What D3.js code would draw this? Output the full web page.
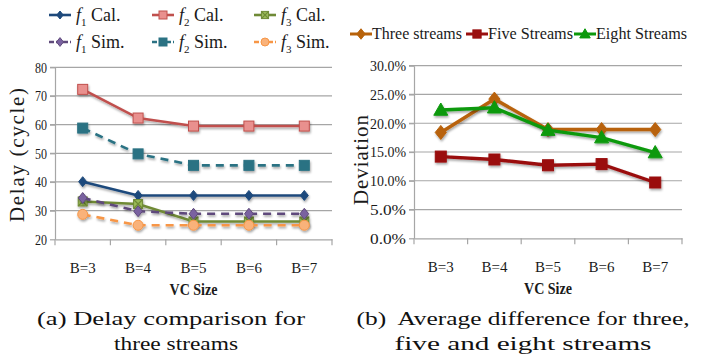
<!DOCTYPE html>
<html lang="en">
<meta charset="UTF-8">
<script src="https://d3js.org/d3.v7.min.js"></script>
<head>
  <style>
    body { margin:0; background:#fff; }
    svg text { font-family: "Liberation Serif", "Times New Roman", Times, serif; fill:#1a1a1a; }
    .grid line { stroke:#a6a6a6; stroke-width:1.2; }
    .axis path, .axis line { stroke:#a6a6a6; stroke-width:1.2; }
    svg text.cap { font-size:19px; fill:#111; }
  </style>
</head>
<body>
<div id="chart"></div>
<script>
  const width = 714, height = 358;
  const serif = "'Liberation Serif', 'Times New Roman', Times, serif";

  // data
  const categories = ["B=3", "B=4", "B=5", "B=6", "B=7"];
  const delayTicks = [20, 30, 40, 50, 60, 70, 80];
  const f1Cal = [40.1, 35.3, 35.3, 35.3, 35.3];
  const f2Cal = [72.3, 62.3, 59.5, 59.5, 59.5];
  const f3Cal = [33.2, 32.3, 26.2, 26.2, 26.2];
  const f1Sim = [34.4, 29.8, 28.9, 28.9, 28.9];
  const f2Sim = [58.8, 49.8, 45.8, 45.8, 45.8];
  const f3Sim = [28.7, 24.9, 24.9, 24.9, 24.9];

  const devTicks = [0, 0.05, 0.10, 0.15, 0.20, 0.25, 0.30];
  const threeStreams = [0.184, 0.242, 0.189, 0.189, 0.189];
  const fiveStreams = [0.142, 0.137, 0.127, 0.129, 0.097];
  const eightStreams = [0.223, 0.227, 0.188, 0.175, 0.149];

  const svg = d3.select("#chart").append("svg")
      .attr("width", width).attr("height", height)
      .attr("font-family", serif);

  const defs = svg.append("defs");
  defs.append("filter").attr("id", "shadow")
      .attr("x", "-20%").attr("y", "-20%").attr("width", "140%").attr("height", "160%")
    .append("feDropShadow")
      .attr("dx", 0.8).attr("dy", 1.8).attr("stdDeviation", 1.1)
      .attr("flood-color", "#000").attr("flood-opacity", 0.35);

  // marker drawing helper
  function marker(g, shape, x, y, s) {
    if (shape.type == "diamond") {
      g.append("path")
        .attr("d", `M${x},${y - s}L${x + s * 0.8},${y}L${x},${y + s}L${x - s * 0.8},${y}Z`)
        .attr("fill", shape.fill).attr("stroke", shape.stroke).attr("stroke-width", 1);
    } else if (shape.type == "square") {
      g.append("rect").attr("x", x - s).attr("y", y - s)
        .attr("width", 2 * s).attr("height", 2 * s)
        .attr("fill", shape.fill).attr("stroke", shape.stroke).attr("stroke-width", 1);
    } else if (shape.type == "xsquare") {
      g.append("rect").attr("x", x - s).attr("y", y - s)
        .attr("width", 2 * s).attr("height", 2 * s)
        .attr("fill", shape.fill).attr("stroke", shape.stroke).attr("stroke-width", 1);
      g.append("path")
        .attr("d", `M${x - s},${y - s}L${x + s},${y + s}M${x + s},${y - s}L${x - s},${y + s}`)
        .attr("stroke", shape.stroke).attr("stroke-width", 1.2);
    } else if (shape.type == "circle") {
      g.append("circle").attr("cx", x).attr("cy", y).attr("r", s)
        .attr("fill", shape.fill).attr("stroke", shape.stroke).attr("stroke-width", 1);
    } else if (shape.type == "triangle") {
      g.append("path")
        .attr("d", `M${x},${y - s}L${x + s},${y + s * 0.75}L${x - s},${y + s * 0.75}Z`)
        .attr("fill", shape.fill).attr("stroke", shape.stroke).attr("stroke-width", 1);
    }
  }

  function drawPanel(opt) {
    const x = d3.scaleBand().domain(categories).range([opt.left, opt.right]);
    const y = d3.scaleLinear().domain(opt.domain).range([opt.bottom, opt.top]);
    const g = svg.append("g");

    // grid
    g.append("g").attr("class", "grid")
      .selectAll("line").data(opt.ticks.slice(1)).join("line")
      .attr("x1", opt.left - 5).attr("x2", opt.right)
      .attr("y1", d => y(d)).attr("y2", d => y(d));

    // y axis
    g.append("g").attr("class", "axis")
      .attr("transform", `translate(${opt.left},0)`)
      .call(d3.axisLeft(y).tickValues(opt.ticks).tickSize(5).tickSizeOuter(0).tickFormat(opt.fmt))
      .call(a => a.selectAll("text").attr("x", -8)
        .style("font-family", serif).style("font-size", "15px").style("fill", "#1a1a1a")
        .attr("textLength", opt.tlen).attr("lengthAdjust", "spacingAndGlyphs"));

    // x axis, ticks on category boundaries
    const xa = g.append("g").attr("class", "axis")
      .attr("transform", `translate(0,${opt.bottom})`)
      .call(d3.axisBottom(x).tickSize(0).tickSizeOuter(0));
    xa.selectAll("text").attr("dy", "0").attr("y", 34)
      .style("font-family", serif).style("font-size", "15px").style("fill", "#1a1a1a");
    xa.selectAll(".bnd").data(d3.range(categories.length + 1)).join("line")
      .attr("x1", i => opt.left + i * x.step()).attr("x2", i => opt.left + i * x.step())
      .attr("y1", 0).attr("y2", 6);

    g.append("text").attr("x", (opt.left + opt.right) / 2).attr("y", opt.bottom + 56)
      .attr("text-anchor", "middle").style("font-size", "16px").style("font-weight", "bold")
      .attr("textLength", 48).attr("lengthAdjust", "spacingAndGlyphs")
      .text("VC Size");

    g.append("text")
      .attr("transform", `translate(${opt.ytx},${opt.yty}) rotate(-90)`)
      .attr("text-anchor", "middle").style("font-size", "21px")
      .attr("textLength", opt.ylen).attr("lengthAdjust", "spacing")
      .text(opt.ylabel);

    const cx = d => x(d) + x.bandwidth() / 2;
    opt.series.forEach(s => {
      const sg = g.append("g").attr("filter", "url(#shadow)");
      const line = d3.line().x((d, i) => cx(categories[i])).y(d => y(d));
      sg.append("path").attr("d", line(s.values))
        .attr("fill", "none").attr("stroke", s.color).attr("stroke-width", opt.lw)
        .attr("stroke-dasharray", s.dash ? "8,6" : null);
      s.values.forEach((v, i) => marker(sg, s.shape, cx(categories[i]), y(v), s.size));
    });
  }

  const leftSeries = [
    {name: "Cal.", sub: "1", values: f1Cal, color: "#1f4a7c", shape: {type: "diamond", fill: "#1f4a7c", stroke: "#1f4a7c"}, size: 5},
    {name: "Cal.", sub: "2", values: f2Cal, color: "#c0504d", shape: {type: "square", fill: "#e9908e", stroke: "#c0504d"}, size: 5},
    {name: "Cal.", sub: "3", values: f3Cal, color: "#6f8a36", shape: {type: "xsquare", fill: "#9bbb59", stroke: "#6f8a36"}, size: 4.5},
    {name: "Sim.", sub: "1", values: f1Sim, color: "#5f4a7b", dash: true, shape: {type: "diamond", fill: "#7a62a0", stroke: "#5f4a7b"}, size: 5.5},
    {name: "Sim.", sub: "2", values: f2Sim, color: "#2b7283", dash: true, shape: {type: "square", fill: "#2b7283", stroke: "#2b7283"}, size: 5},
    {name: "Sim.", sub: "3", values: f3Sim, color: "#f79646", dash: true, shape: {type: "circle", fill: "#f9b27a", stroke: "#f79646"}, size: 5}
  ];

  drawPanel({left: 55, right: 332, top: 67.3, bottom: 239.3, domain: [20, 80],
    ticks: delayTicks, fmt: d3.format("d"), tlen: 12, ytx: 24, yty: 155, ylen: 134,
    ylabel: "Delay (cycle)", lw: 2.6, series: leftSeries});

  const rightSeries = [
    {name: "Three streams", values: threeStreams, color: "#b8620a", shape: {type: "diamond", fill: "#b8620a", stroke: "#b8620a"}, size: 7},
    {name: "Five Streams", values: fiveStreams, color: "#9a0f0f", shape: {type: "square", fill: "#9a0f0f", stroke: "#9a0f0f"}, size: 5.5},
    {name: "Eight Streams", values: eightStreams, color: "#0b990b", shape: {type: "triangle", fill: "#0b990b", stroke: "#0b990b"}, size: 7}
  ];

  drawPanel({left: 414, right: 682, top: 65.7, bottom: 238.3, domain: [0, 0.30],
    ticks: devTicks, fmt: d3.format(".1%"), tlen: 36, ytx: 368, yty: 160, ylen: 90,
    ylabel: "Deviation", lw: 3.4, series: rightSeries});

  // legend (a)
  const legA = svg.append("g");
  const legPos = [[49, 15], [152, 15], [254, 15], [49, 42], [152, 42], [254, 42]];
  leftSeries.forEach((s, i) => {
    const [lx, ly] = legPos[i];
    const lg = legA.append("g");
    lg.append("line").attr("x1", lx).attr("x2", lx + 22).attr("y1", ly).attr("y2", ly)
      .attr("stroke", s.color).attr("stroke-width", 2.6)
      .attr("stroke-dasharray", s.dash ? "5,2" : null);
    marker(lg, s.shape, lx + 11, ly, s.size * 0.8);
    const t = lg.append("text").attr("x", lx + 27).attr("y", ly + 6).style("font-size", "18px");
    t.append("tspan").style("font-style", "italic").text("f");
    t.append("tspan").attr("dy", 5).style("font-size", "11px").text(s.sub);
    t.append("tspan").attr("dy", -5).text(" " + s.name);
  });

  // legend (b)
  const legB = svg.append("g");
  const legBx = [350, 466, 574];
  const legBlen = [90, 85, 91];
  rightSeries.forEach((s, i) => {
    const lx = legBx[i], ly = 34;
    legB.append("line").attr("x1", lx).attr("x2", lx + 22).attr("y1", ly).attr("y2", ly)
      .attr("stroke", s.color).attr("stroke-width", 3);
    marker(legB, s.shape, lx + 11, ly, s.size * 0.75);
    legB.append("text").attr("x", lx + 22).attr("y", ly + 5).style("font-size", "17px")
      .attr("textLength", legBlen[i]).attr("lengthAdjust", "spacingAndGlyphs")
      .text(s.name);
  });

  // captions
  const caps = [
    {x: 171, y: 325, t: "(a) Delay comparison for", len: 268},
    {x: 176, y: 350, t: "three streams", len: 124},
    {x: 523, y: 325, t: "(b)  Average difference for three,", len: 333},
    {x: 523, y: 350, t: "five and eight streams", len: 257}
  ];
  svg.selectAll(".cap").data(caps).join("text").attr("class", "cap")
    .attr("x", d => d.x).attr("y", d => d.y).attr("text-anchor", "middle")
    .attr("textLength", d => d.len).attr("lengthAdjust", "spacingAndGlyphs")
    .style("white-space", "pre").text(d => d.t);
</script>
</body>
</html>
